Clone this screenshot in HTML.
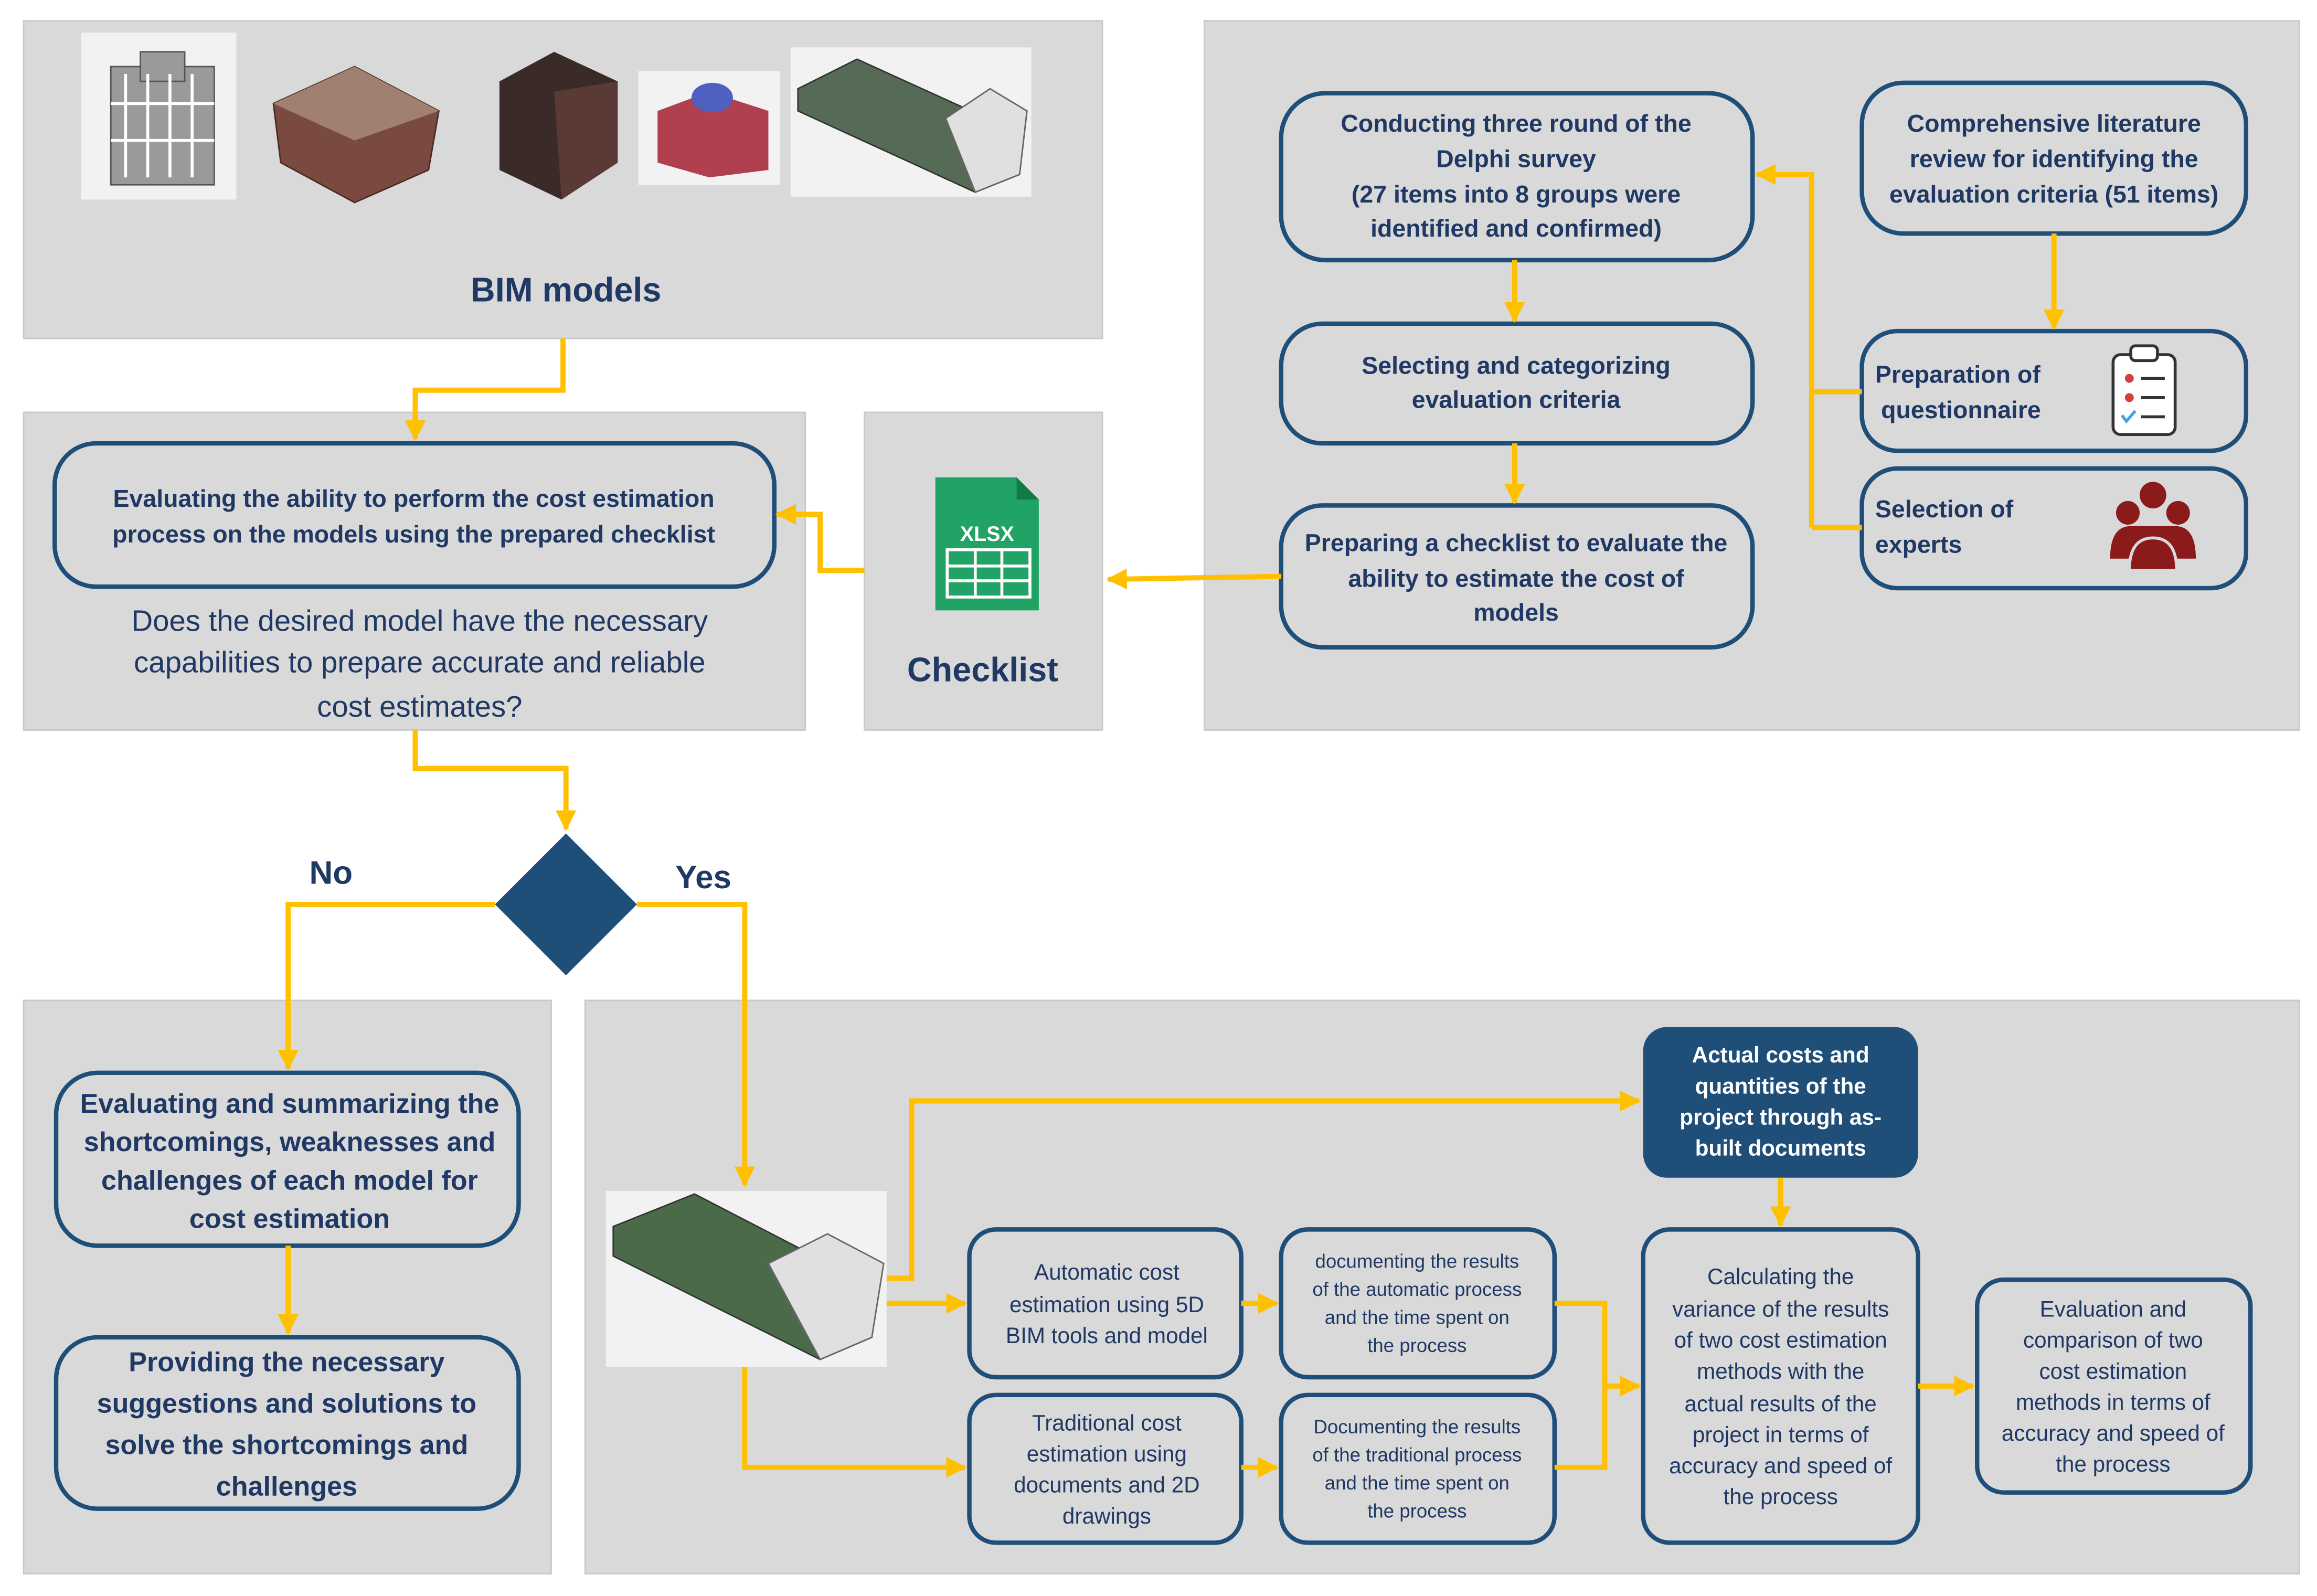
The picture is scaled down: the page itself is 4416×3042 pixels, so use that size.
<!DOCTYPE html>
<html><head><meta charset="utf-8"><style>
html,body{margin:0;padding:0;background:#fff;}
svg{display:block;}
text{font-family:"Liberation Sans",sans-serif;fill:#1f3864;}
.b{font-weight:bold;}
</style></head><body>
<svg width="4416" height="3042" viewBox="0 0 1568 1080" xmlns="http://www.w3.org/2000/svg">
<defs>
<marker id="ar" markerWidth="6" markerHeight="6" refX="5" refY="3" orient="auto" markerUnits="userSpaceOnUse" viewBox="0 0 6 6">
</marker>
<marker id="a" viewBox="0 0 10 10" refX="9" refY="5" markerWidth="14" markerHeight="14" markerUnits="userSpaceOnUse" orient="auto"><path d="M0,0 L10,5 L0,10 z" fill="#ffc000"/></marker>
</defs>
<rect width="1568" height="1080" fill="#fff"/>
<!-- panels -->
<g fill="#d9d9d9" stroke="#c8c8c8" stroke-width="1">
<rect x="16" y="14" width="730" height="215"/>
<rect x="815" y="14" width="741" height="480"/>
<rect x="16" y="279" width="529" height="215"/>
<rect x="585" y="279" width="161" height="215"/>
<rect x="16" y="677" width="357" height="388"/>
<rect x="396" y="677" width="1160" height="388"/>
</g>
<!-- BIM images -->
<rect x="55" y="22" width="105" height="113" fill="#f2f2f2"/>
<g fill="#9a9a9a" stroke="#555" stroke-width="1">
<rect x="75" y="45" width="70" height="80"/><rect x="95" y="35" width="30" height="20"/>
</g>
<g stroke="#fff" stroke-width="2"><line x1="85" y1="50" x2="85" y2="120"/><line x1="100" y1="50" x2="100" y2="120"/><line x1="115" y1="50" x2="115" y2="120"/><line x1="130" y1="50" x2="130" y2="120"/><line x1="75" y1="70" x2="145" y2="70"/><line x1="75" y1="95" x2="145" y2="95"/></g>
<polygon points="185,70 240,45 297,75 290,115 240,137 190,110" fill="#7a4a40" stroke="#4a2a25"/>
<polygon points="185,70 240,45 297,75 240,95" fill="#a08070"/>
<polygon points="338,55 375,35 418,55 418,110 380,135 338,115" fill="#3a2a28"/>
<polygon points="375,62 418,55 418,110 380,135" fill="#5a3a35"/>
<rect x="432" y="48" width="96" height="77" fill="#f2f2f2"/>
<polygon points="445,75 480,62 520,75 520,115 480,120 445,110" fill="#b04050"/>
<ellipse cx="482" cy="66" rx="14" ry="10" fill="#5060c0"/>
<rect x="535" y="32" width="163" height="101" fill="#f2f2f2"/>
<polygon points="540,60 580,40 690,90 690,118 660,130 540,75" fill="#556b55" stroke="#333"/>
<polygon points="640,80 670,60 695,75 690,118 660,130" fill="#e0e0e0" stroke="#666"/>
<text x="383" y="204" font-size="23" text-anchor="middle" class="b">BIM models</text>
<!-- XLSX icon -->
<path d="M633,323 H688 L703,338 V413 H633 Z" fill="#21a366"/>
<path d="M688,323 V338 H703 Z" fill="#107c41"/>
<text x="668" y="366" font-size="14" text-anchor="middle" class="b" style="fill:#fff">XLSX</text>
<g stroke="#fff" stroke-width="2" fill="none"><rect x="641" y="372" width="56" height="32"/><line x1="641" y1="383" x2="697" y2="383"/><line x1="641" y1="393" x2="697" y2="393"/><line x1="660" y1="372" x2="660" y2="404"/><line x1="678" y1="372" x2="678" y2="404"/></g>
<text x="665" y="461" font-size="23" text-anchor="middle" class="b">Checklist</text>
<!-- boxes -->
<g fill="#d9d9d9" stroke="#1f4e79" stroke-width="3">
<rect x="867" y="63" width="319" height="113" rx="30"/>
<rect x="1260" y="56" width="260" height="102" rx="28"/>
<rect x="867" y="219" width="319" height="81" rx="28"/>
<rect x="1260" y="224" width="260" height="81" rx="24"/>
<rect x="867" y="342" width="319" height="96" rx="28"/>
<rect x="1260" y="317" width="260" height="81" rx="24"/>
<rect x="37" y="300" width="487" height="97" rx="28"/>
<rect x="38" y="726" width="313" height="117" rx="28"/>
<rect x="38" y="905" width="313" height="116" rx="28"/>
<rect x="656" y="832" width="184" height="100" rx="18"/>
<rect x="656" y="944" width="184" height="100" rx="18"/>
<rect x="867" y="832" width="185" height="100" rx="18"/>
<rect x="867" y="944" width="185" height="100" rx="18"/>
<rect x="1112" y="832" width="186" height="212" rx="18"/>
<rect x="1338" y="866" width="185" height="144" rx="18"/>
</g>
<rect x="1112" y="695" width="186" height="102" rx="16" fill="#1f4e79"/>
<polygon points="383,564 431,612 383,660 335,612" fill="#1f4e79"/>
<!-- icons -->
<rect x="1430" y="240" width="42" height="54" rx="5" fill="#fff" stroke="#333" stroke-width="2"/>
<rect x="1442" y="234" width="18" height="10" rx="3" fill="#fff" stroke="#333" stroke-width="2"/>
<g fill="#d04040"><circle cx="1441" cy="256" r="3"/><circle cx="1441" cy="269" r="3"/></g>
<g stroke="#333" stroke-width="2"><line x1="1449" y1="256" x2="1465" y2="256"/><line x1="1449" y1="269" x2="1465" y2="269"/><line x1="1449" y1="282" x2="1465" y2="282"/></g>
<path d="M1436,281 l3,4 l6,-7" stroke="#4aa0e0" stroke-width="2" fill="none"/>
<g fill="#8b1a1a"><circle cx="1457" cy="335" r="9"/><circle cx="1440" cy="347" r="8"/><circle cx="1474" cy="347" r="8"/><path d="M1428,378 q0,-22 14,-22 h30 q14,0 14,22 z"/><path d="M1441,386 q0,-22 16,-22 q16,0 16,22 z" stroke="#d9d9d9" stroke-width="2"/></g>
<!-- bottom model image -->
<rect x="410" y="806" width="190" height="119" fill="#f2f2f2"/>
<polygon points="415,830 470,808 590,870 590,905 555,920 415,850" fill="#4a6a4a" stroke="#333"/>
<polygon points="520,855 560,835 598,855 590,905 555,920" fill="#e0e0e0" stroke="#666"/>
<!-- text -->
<g font-size="16.5" text-anchor="middle" class="b">
<text x="1026" y="89">Conducting three round of the</text>
<text x="1026" y="113">Delphi survey</text>
<text x="1026" y="137">(27 items into 8 groups were</text>
<text x="1026" y="160">identified and confirmed)</text>
<text x="1390" y="89">Comprehensive literature</text>
<text x="1390" y="113">review for identifying the</text>
<text x="1390" y="137">evaluation criteria (51 items)</text>
<text x="1026" y="253">Selecting and categorizing</text>
<text x="1026" y="276">evaluation criteria</text>
<text x="1026" y="373">Preparing a checklist to evaluate the</text>
<text x="1026" y="397">ability to estimate the cost of</text>
<text x="1026" y="420">models</text>
<text x="280" y="343">Evaluating the ability to perform the cost estimation</text>
<text x="280" y="367">process on the models using the prepared checklist</text>
</g>
<g font-size="16.5" class="b">
<text x="1269" y="259">Preparation of</text>
<text x="1273" y="283">questionnaire</text>
<text x="1269" y="350">Selection of</text>
<text x="1269" y="374">experts</text>
</g>
<g font-size="20" text-anchor="middle">
<text x="284" y="427">Does the desired model have the necessary</text>
<text x="284" y="455">capabilities to prepare accurate and reliable</text>
<text x="284" y="485">cost estimates?</text>
</g>
<text x="224" y="598" font-size="22" text-anchor="middle" class="b">No</text>
<text x="476" y="601" font-size="22" text-anchor="middle" class="b">Yes</text>
<g font-size="18.5" text-anchor="middle" class="b">
<text x="196" y="753">Evaluating and summarizing the</text>
<text x="196" y="779">shortcomings, weaknesses and</text>
<text x="196" y="805">challenges of each model for</text>
<text x="196" y="831">cost estimation</text>
<text x="194" y="928">Providing the necessary</text>
<text x="194" y="956">suggestions and solutions to</text>
<text x="194" y="984">solve the shortcomings and</text>
<text x="194" y="1012">challenges</text>
</g>
<g font-size="15" text-anchor="middle">
<text x="749" y="866">Automatic cost</text>
<text x="749" y="888">estimation using 5D</text>
<text x="749" y="909">BIM tools and model</text>
<text x="749" y="968">Traditional cost</text>
<text x="749" y="989">estimation using</text>
<text x="749" y="1010">documents and 2D</text>
<text x="749" y="1031">drawings</text>
<text x="1205" y="869">Calculating the</text>
<text x="1205" y="891">variance of the results</text>
<text x="1205" y="912">of two cost estimation</text>
<text x="1205" y="933">methods with the</text>
<text x="1205" y="955">actual results of the</text>
<text x="1205" y="976">project in terms of</text>
<text x="1205" y="997">accuracy and speed of</text>
<text x="1205" y="1018">the process</text>
<text x="1430" y="891">Evaluation and</text>
<text x="1430" y="912">comparison of two</text>
<text x="1430" y="933">cost estimation</text>
<text x="1430" y="954">methods in terms of</text>
<text x="1430" y="975">accuracy and speed of</text>
<text x="1430" y="996">the process</text>
</g>
<g font-size="13" text-anchor="middle">
<text x="959" y="858">documenting the results</text>
<text x="959" y="877">of the automatic process</text>
<text x="959" y="896">and the time spent on</text>
<text x="959" y="915">the process</text>
<text x="959" y="970">Documenting the results</text>
<text x="959" y="989">of the traditional process</text>
<text x="959" y="1008">and the time spent on</text>
<text x="959" y="1027">the process</text>
</g>
<g font-size="15" text-anchor="middle" style="fill:#fff" class="b">
<text x="1205" y="719" style="fill:#fff">Actual costs and</text>
<text x="1205" y="740" style="fill:#fff">quantities of the</text>
<text x="1205" y="761" style="fill:#fff">project through as-</text>
<text x="1205" y="782" style="fill:#fff">built documents</text>
</g>
<!-- connectors -->
<g stroke="#ffc000" stroke-width="3.5" fill="none" marker-end="url(#a)">
<polyline points="381,229 381,264 281,264 281,297"/>
<polyline points="585,386 555,386 555,348 526,348"/>
<polyline points="867,390 750,392"/>
<polyline points="1025,176 1025,217"/>
<polyline points="1025,300 1025,340"/>
<polyline points="1390,158 1390,222"/>
<polyline points="1226,357 1226,118 1189,118"/>
<polyline points="281,494 281,520 383,520 383,561"/>
<polyline points="335,612 195,612 195,723"/>
<polyline points="431,612 504,612 504,802"/>
<polyline points="195,843 195,902"/>
<polyline points="600,865 617,865 617,745 1109,745"/>
<polyline points="600,882 653,882"/>
<polyline points="504,925 504,993 653,993"/>
<polyline points="840,882 864,882"/>
<polyline points="840,993 864,993"/>
<polyline points="1086,938 1109,938"/>
<polyline points="1205,797 1205,829"/>
<polyline points="1298,938 1335,938"/>
</g>
<g stroke="#ffc000" stroke-width="3.5" fill="none">
<polyline points="1260,265 1226,265"/>
<polyline points="1260,357 1226,357"/>
<polyline points="1052,882 1086,882 1086,993 1052,993"/>
</g>
</svg>
</body></html>
